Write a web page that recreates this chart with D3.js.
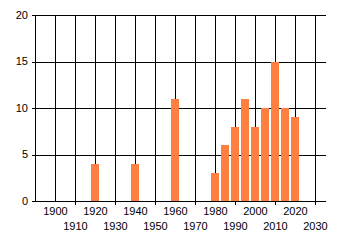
<!DOCTYPE html>
<html>
<head>
<meta charset="utf-8">
<script src="https://cdn.jsdelivr.net/npm/d3@7"></script>
<style>
  body { margin: 0; background: #fff; }
  text { font-family: "Liberation Sans Narrow", "Liberation Sans", Arial, sans-serif; font-size: 11px; fill: #000; }
</style>
</head>
<body>
<div id="chart"></div>
<script>
// Data
const years = [1920, 1940, 1960, 1980, 1985, 1990, 1995, 2000, 2005, 2010, 2015, 2020]
const counts = [4, 4, 11, 3, 6, 8, 11, 8, 10, 15, 10, 9]
const xTicks = [1900, 1910, 1920, 1930, 1940, 1950, 1960, 1970, 1980, 1990, 2000, 2010, 2020, 2030]
const yTicks = [0, 5, 10, 15, 20]

const width = 340
const height = 245
const plot = { left: 35, right: 326, top: 15, bottom: 201 }

const svg = d3.select('#chart').append('svg')
    .attr('width', width)
    .attr('height', height)

const x = d3.scaleLinear().domain([1890, 2035.5]).range([plot.left, plot.right])
const y = d3.scaleLinear().domain([0, 20]).range([plot.bottom, plot.top])

const crisp = v => Math.round(v) + 0.5

// horizontal grid + y ticks
const yGroup = svg.append('g')
yGroup.selectAll('line')
    .data(yTicks)
    .enter().append('line')
    .attr('x1', plot.left - 3)
    .attr('x2', plot.right)
    .attr('y1', d => crisp(y(d)))
    .attr('y2', d => crisp(y(d)))
    .attr('stroke', '#000')
yGroup.selectAll('text')
    .data(yTicks)
    .enter().append('text')
    .attr('x', 28)
    .attr('y', d => y(d))
    .attr('dy', '0.35em')
    .attr('text-anchor', 'end')
    .text(d => d)

// vertical grid, ticks below axis only at the odd decades
const xGroup = svg.append('g')
xGroup.selectAll('line')
    .data(xTicks)
    .enter().append('line')
    .attr('x1', d => crisp(x(d)))
    .attr('x2', d => crisp(x(d)))
    .attr('y1', plot.top)
    .attr('y2', (d, i) => i % 2 ? plot.bottom + 4 : plot.bottom)
    .attr('stroke', '#000')
xGroup.selectAll('text')
    .data(xTicks)
    .enter().append('text')
    .attr('x', d => x(d) + 0.5)
    .attr('y', (d, i) => i % 2 ? 230 : 214.5)
    .attr('text-anchor', 'middle')
    .text(d => d)

// bars
const barW = x(1894) - x(1890)
svg.append('g').selectAll('rect')
    .data(years)
    .enter().append('rect')
    .attr('x', d => Math.round(x(d) - barW / 2))
    .attr('width', barW)
    .attr('y', (d, i) => Math.round(y(counts[i])))
    .attr('height', (d, i) => y(0) - Math.round(y(counts[i])))
    .attr('fill', '#ff7f40')

// axes lines
svg.append('line')
    .attr('x1', crisp(plot.left)).attr('x2', crisp(plot.left))
    .attr('y1', plot.top).attr('y2', plot.bottom + 1)
    .attr('stroke', '#000')
svg.append('line')
    .attr('x1', plot.left).attr('x2', plot.right)
    .attr('y1', crisp(plot.bottom)).attr('y2', crisp(plot.bottom))
    .attr('stroke', '#000')
</script>
</body>
</html>
